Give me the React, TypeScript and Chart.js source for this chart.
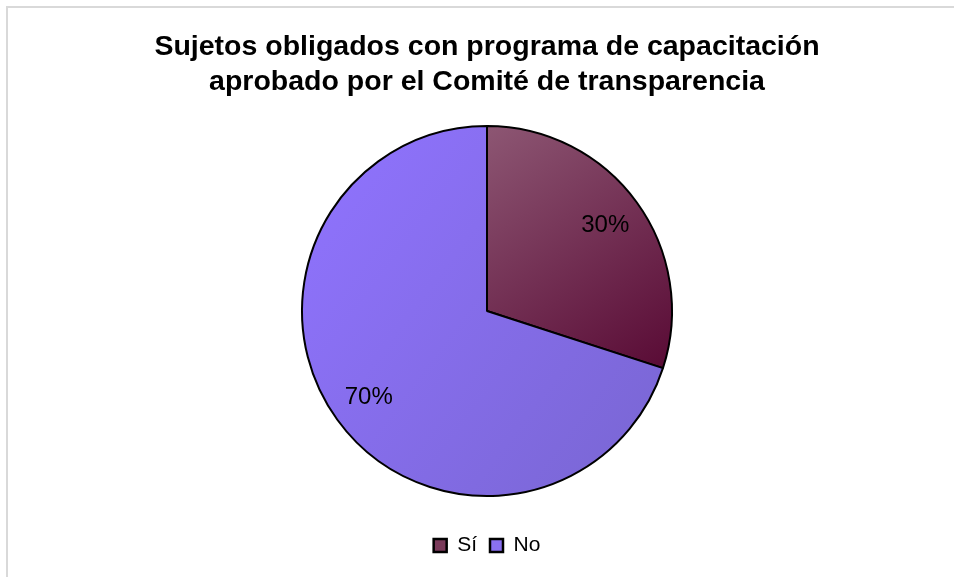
import React, { useEffect, useRef } from "react";
import { Chart, registerables } from "chart.js";

Chart.register(...registerables);

const titleLines = [
  "Sujetos obligados con programa de capacitación",
  "aprobado por el Comité de transparencia",
];
const categories = ["Sí", "No"];
const values = [30, 70];
const legendColors = ["#7A3A5A", "#8A70F0"];
const gradientStops = [
  ["#8C5572", "#5A0C36"],
  ["#8E72FC", "#7966D2"],
];

const FONT = "'Liberation Sans', Arial, sans-serif";

const labelPlugin = {
  id: "pctLabels",
  afterDatasetsDraw(chart: any) {
    const ctx = chart.ctx;
    const meta = chart.getDatasetMeta(0);
    const data = chart.data.datasets[0].data as number[];
    const total = data.reduce((a, b) => a + b, 0);
    ctx.save();
    ctx.font = `24px ${FONT}`;
    ctx.fillStyle = "#000";
    ctx.textAlign = "center";
    ctx.textBaseline = "middle";
    meta.data.forEach((arc: any, i: number) => {
      const { x, y, startAngle, endAngle, outerRadius } = arc.getProps(
        ["x", "y", "startAngle", "endAngle", "outerRadius"],
        true
      );
      const mid = (startAngle + endAngle) / 2;
      const d = outerRadius * 0.79;
      const pct = Math.round((data[i] / total) * 100) + "%";
      ctx.fillText(pct, x + Math.cos(mid) * d, y + Math.sin(mid) * d);
    });
    ctx.restore();
  },
};

export default function App() {
  const canvasRef = useRef<HTMLCanvasElement | null>(null);

  useEffect(() => {
    const canvas = canvasRef.current;
    if (!canvas) return;
    const R = 185;
    const bg = (context: any) => {
      const chart = context.chart;
      const area = chart.chartArea;
      const i = context.dataIndex ?? 0;
      if (!area) return legendColors[i];
      const cx = (area.left + area.right) / 2;
      const cy = (area.top + area.bottom) / 2;
      let g;
      if (i === 0) {
        g = chart.ctx.createLinearGradient(cx + 0.05 * R, cy - R, cx + 0.95 * R, cy + 0.3 * R);
      } else {
        g = chart.ctx.createLinearGradient(cx - R, cy - 0.6 * R, cx + R, cy + 0.9 * R);
      }
      g.addColorStop(0, gradientStops[i][0]);
      g.addColorStop(1, gradientStops[i][1]);
      return g;
    };

    const chart = new Chart(canvas, {
      type: "pie",
      data: {
        labels: categories,
        datasets: [
          {
            data: values,
            backgroundColor: bg,
            borderColor: "#000000",
            borderWidth: 2,
            radius: R,
          } as any,
        ],
      },
      options: {
        responsive: false,
        animation: false,
        layout: { padding: { left: 20, top: 0, right: 0, bottom: 11 } },
        plugins: {
          tooltip: { enabled: false },
          title: {
            display: true,
            text: titleLines,
            color: "#000000",
            font: { family: FONT, size: 28.5, weight: "bold", lineHeight: "35px" as any },
            padding: { top: 30, bottom: 0 },
          },
          legend: {
            display: true,
            position: "bottom",
            labels: {
              color: "#000000",
              font: { family: FONT, size: 21 },
              boxWidth: 13,
              boxHeight: 13,
              padding: 13,
              generateLabels: () =>
                categories.map((c, i) => ({
                  text: c,
                  fillStyle: legendColors[i],
                  strokeStyle: "#000000",
                  lineWidth: 2.5,
                  hidden: false,
                  index: i,
                  datasetIndex: 0,
                  fontColor: "#000000",
                })) as any,
            },
          },
        },
      },
      plugins: [labelPlugin],
    });
    return () => chart.destroy();
  }, []);

  return (
    <div
      style={{
        position: "fixed",
        left: 0,
        top: 0,
        width: 954,
        height: 577,
        overflow: "hidden",
        background: "#ffffff",
      }}
    >
      <div
        style={{
          position: "absolute",
          left: 6,
          top: 6,
          width: 1000,
          height: 1000,
          border: "2px solid #d9d9d9",
        }}
      />
      <canvas
        ref={canvasRef}
        width={954}
        height={577}
        style={{ position: "absolute", left: 0, top: 0, width: 954, height: 577 }}
      />
    </div>
  );
}
